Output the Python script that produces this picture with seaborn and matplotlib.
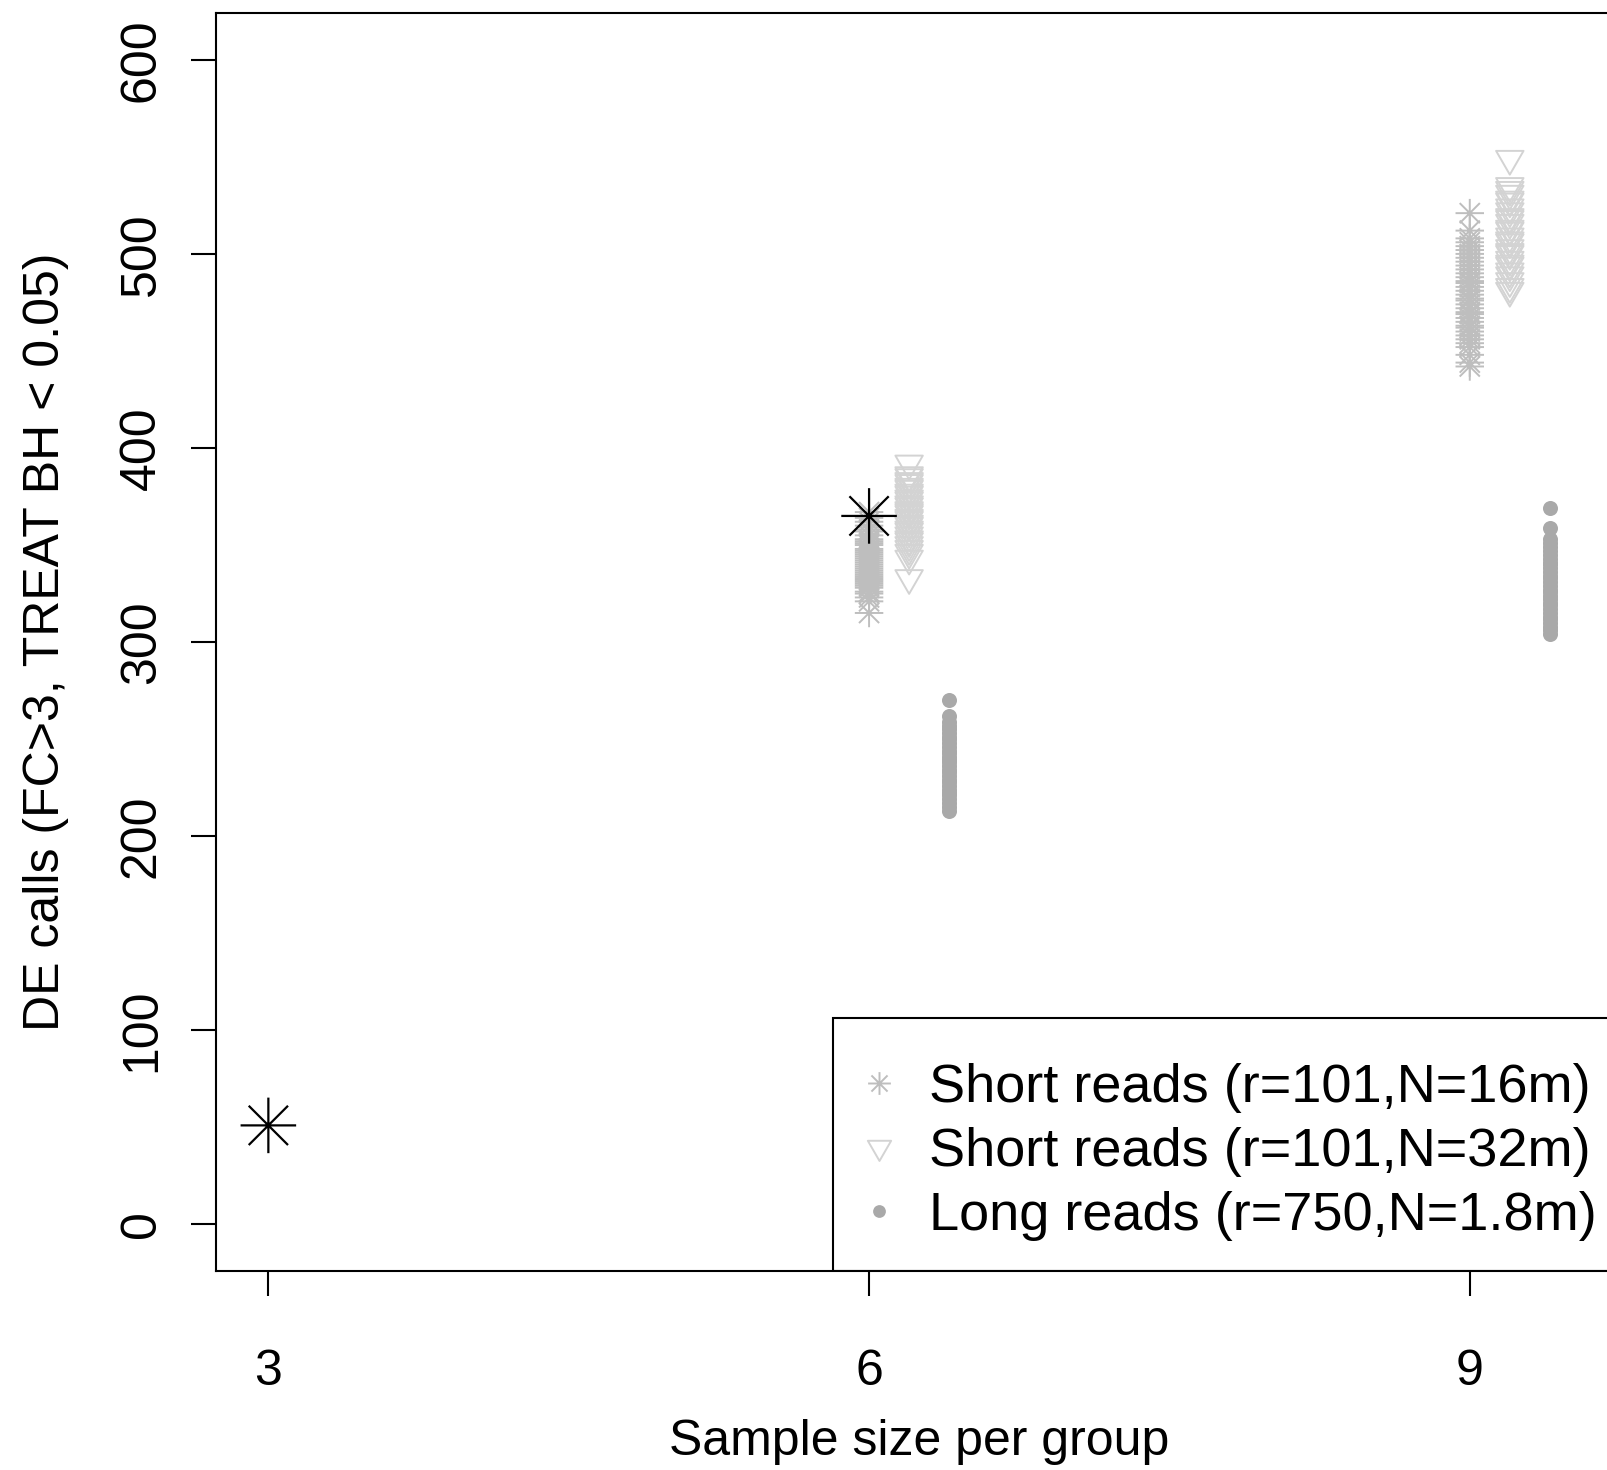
import numpy as np
import pandas as pd
import matplotlib
matplotlib.use("Agg")
import matplotlib.pyplot as plt
from matplotlib.path import Path
from matplotlib.lines import Line2D
from matplotlib.patches import Rectangle
import seaborn as sns

# ---------------- data ----------------
sample_sizes = [3, 6, 9]
x_tick_labels = ["3", "6", "9"]
y_ticks = [0, 100, 200, 300, 400, 500, 600]

series_labels = ["Short reads (r=101,N=16m)",
                 "Short reads (r=101,N=32m)",
                 "Long reads (r=750,N=1.8m)"]
series_offsets = [0.0, 0.2, 0.4]

short16_n6 = [315, 321, 323, 325, 326, 328, 329, 330, 331, 332, 333, 334, 335, 336,
              337, 338, 339, 340, 341, 342, 343, 344, 345, 346, 347, 348, 350, 351,
              352, 353, 355, 357, 358, 360, 362, 364, 367]
short16_n9 = [442, 444, 448, 452, 454, 456, 458, 460, 462, 463, 465, 467, 469, 470,
              472, 474, 476, 477, 479, 481, 483, 485, 486, 488, 490, 492, 494, 496,
              498, 500, 502, 504, 506, 508, 512, 521]
short32_n6 = [333, 343, 346, 348, 350, 352, 353, 355, 357, 358, 360, 361, 363, 364,
              366, 367, 368, 370, 371, 373, 374, 376, 377, 379, 380, 382, 383, 385,
              386, 392]
short32_n9 = [481, 483, 486, 489, 491, 494, 495, 497, 500, 501, 503, 506, 507, 509,
              512, 513, 516, 518, 519, 522, 524, 527, 528, 531, 533, 535, 549]
long_n6 = [213, 215, 217, 219, 221, 222, 224, 226, 228, 229, 231, 233, 234, 236,
           238, 239, 241, 243, 244, 246, 248, 250, 251, 253, 255, 257, 259, 262, 270]
long_n9 = [304, 306, 308, 310, 312, 313, 315, 317, 319, 320, 322, 324, 326, 327,
           329, 331, 333, 334, 336, 338, 340, 341, 343, 345, 347, 349, 351, 353,
           359, 369]

observed_n = [3, 6]
observed_calls = [51, 365]

series_colors = ["#BEBEBE", "#D3D3D3", "#A9A9A9"]

# ---------------- build tables ----------------
def make_df(vals6, vals9, offset):
    xs = [6 + offset] * len(vals6) + [9 + offset] * len(vals9)
    return pd.DataFrame({"n": xs, "calls": list(vals6) + list(vals9)})

df16 = make_df(short16_n6, short16_n9, series_offsets[0])
df32 = make_df(short32_n6, short32_n9, series_offsets[1])
dflong = make_df(long_n6, long_n9, series_offsets[2])
dfobs = pd.DataFrame({"n": observed_n, "calls": observed_calls})

# ---------------- style ----------------
sns.set_style("ticks")
plt.rcParams["font.family"] = ["Liberation Sans", "DejaVu Sans"]
plt.rcParams["axes.linewidth"] = 1.5
plt.rcParams["text.color"] = "black"
plt.rcParams["axes.labelcolor"] = "black"

# R-like markers
star = Path([(-1, 0), (1, 0), (0, -1), (0, 1),
             (-0.7071, -0.7071), (0.7071, 0.7071),
             (-0.7071, 0.7071), (0.7071, -0.7071)],
            [Path.MOVETO, Path.LINETO] * 4)
tri_down = Path([(0, -1.5551), (1.3468, 0.7776), (-1.3468, 0.7776), (0, -1.5551)],
                [Path.MOVETO, Path.LINETO, Path.LINETO, Path.CLOSEPOLY])

fig = plt.figure(figsize=(16.07, 14.70), dpi=100)
ax = fig.add_axes([0.1346, 0.1354, 0.8747, 0.8556])

s_star, s_tri, s_dot, s_big = 420, 520, 117, 1600

sns.scatterplot(data=df16, x="n", y="calls", marker=star, s=s_star,
                facecolor="none", edgecolor=series_colors[0], linewidth=1.4, ax=ax)
sns.scatterplot(data=df32, x="n", y="calls", marker=tri_down, s=s_tri,
                facecolor="none", edgecolor=series_colors[1], linewidth=1.4, ax=ax)
sns.scatterplot(data=dflong, x="n", y="calls", marker="o", s=s_dot,
                color=series_colors[2], linewidth=0, ax=ax)
sns.scatterplot(data=dfobs, x="n", y="calls", marker=star, s=s_big,
                facecolor="none", edgecolor="black", linewidth=1.6, ax=ax)

ax.set_xlim(2.74, 9.76)
ax.set_ylim(-24, 624)
ax.set_xticks(sample_sizes)
ax.set_xticklabels(x_tick_labels)
ax.set_yticks(y_ticks)
ax.set_yticklabels([str(v) for v in y_ticks], rotation=90, va="center")

for sp in ax.spines.values():
    sp.set_visible(True)
    sp.set_linewidth(1.5)
    sp.set_color("black")
    sp.set_zorder(6)

ax.tick_params(axis="both", direction="out", length=18, width=1.5,
               colors="black", labelsize=36)
ax.tick_params(axis="x", pad=38.5)
ax.tick_params(axis="y", pad=19)

ax.set_xlabel("Sample size per group", fontsize=36, va="center")
ax.set_ylabel("DE calls (FC>3, TREAT BH < 0.05)", fontsize=36)
ax.xaxis.set_label_coords(0.5, -0.136)
ax.yaxis.label.set_va("center")
ax.yaxis.set_label_coords(-0.121, 0.5)

# legend frame (R style box anchored at bottom-right of plot region)
ax.add_patch(Rectangle((0.4387, 0.0), 0.5613, 0.2014, transform=ax.transAxes,
                       facecolor="white", edgecolor="black", linewidth=1.5,
                       zorder=4))

handles = [
    Line2D([], [], linestyle="none", marker=star, markersize=np.sqrt(s_star) * 0.8,
           markeredgecolor=series_colors[0], markerfacecolor="none", markeredgewidth=1.4),
    Line2D([], [], linestyle="none", marker=tri_down, markersize=np.sqrt(s_tri) * 0.85,
           markeredgecolor=series_colors[1], markerfacecolor="none", markeredgewidth=1.4),
    Line2D([], [], linestyle="none", marker="o", markersize=np.sqrt(s_dot) * 0.85,
           markeredgecolor=series_colors[2], markerfacecolor=series_colors[2],
           markeredgewidth=0),
]
leg = ax.legend(handles, series_labels, loc="lower left",
                bbox_to_anchor=(0.4387, 0.0), borderaxespad=0, fontsize=39,
                frameon=False, handlelength=0.586, handletextpad=0.637,
                borderpad=0.557, labelspacing=0.255)
leg.set_zorder(5)

fig.savefig("out.png", dpi=100)
